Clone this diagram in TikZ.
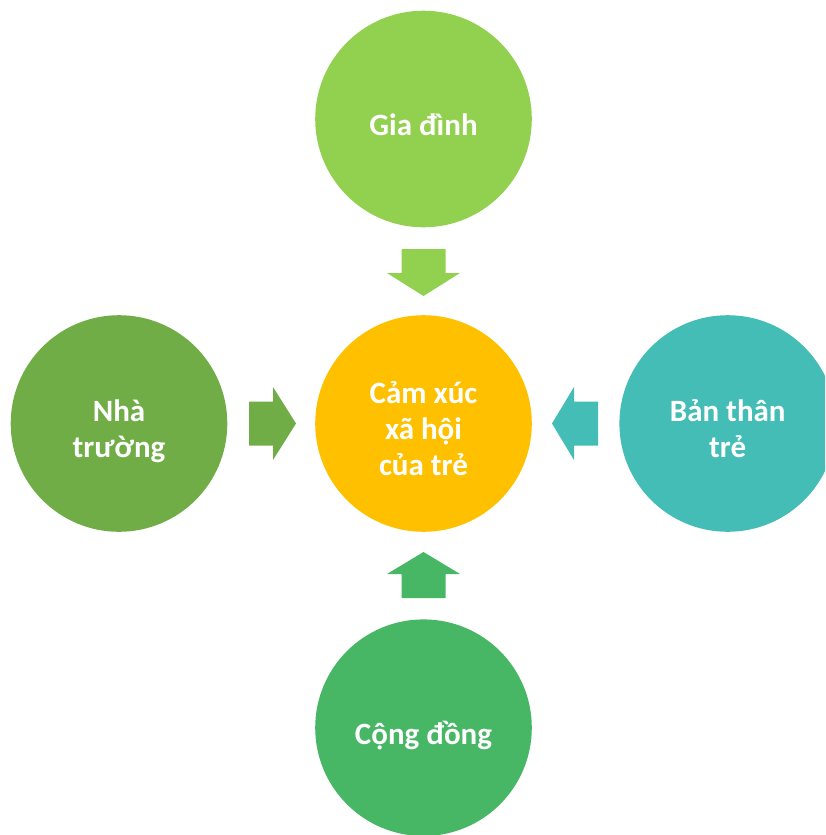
\documentclass[tikz,border=0pt]{standalone}
\usepackage{fontspec}
\setmainfont{Carlito}
\usetikzlibrary{calc}
\definecolor{cTop}{HTML}{92D050}
\definecolor{cLeft}{HTML}{70AD47}
\definecolor{cMid}{HTML}{FFC000}
\definecolor{cRight}{HTML}{43BDB5}
\definecolor{cBot}{HTML}{47B665}
\begin{document}
\begin{tikzpicture}[x=1pt,y=-1pt,
  bubble/.style={circle,minimum size=216.6pt,inner sep=0pt,draw=none},
  lbl/.style={text=white,font=\bfseries\fontsize{31}{36}\selectfont,align=center,inner sep=0pt,anchor=base}]
\useasboundingbox (0,0) rectangle (825,835);
\clip (0,0) rectangle (825,835);
% circles
\node[bubble,fill=cTop]   (gd) at (423.5,119)   {};
\node[bubble,fill=cLeft]  (nt) at (119,423.5)   {};
\node[bubble,fill=cMid]   (cx) at (423.5,423.5) {};
\node[bubble,fill=cRight] (bt) at (727.7,423.5) {};
\node[bubble,fill=cBot]   (cd) at (423.5,727.7) {};
% labels (base anchor = baseline of last line)
\node[lbl] (gdt) at ($(gd.center)+(0,16)$)   {Gia đình};
\node[lbl] (ntt) at ($(nt.center)+(0,33.5)$) {Nhà\\trường};
\node[lbl] (cxt) at ($(cx.center)+(0,51.5)$) {Cảm xúc\\xã hội\\của trẻ};
\node[lbl] (btt) at ($(bt.center)+(0,33.5)$) {Bản thân\\trẻ};
\node[lbl] (cdt) at ($(cd.center)+(0,17)$)   {Cộng đồng};
% block arrows
\fill[cTop] (401.5,249) -- (445.5,249) -- (445.5,273) -- (460,273) -- (423.5,296)
  -- (387,273) -- (401.5,273) -- cycle;
\fill[cLeft] (249,401.5) -- (249,445.5) -- (273,445.5) -- (273,460) -- (296,423.5)
  -- (273,387) -- (273,401.5) -- cycle;
\fill[cRight] (598,401.5) -- (598,445.5) -- (574,445.5) -- (574,460) -- (552,423.5)
  -- (574,387) -- (574,401.5) -- cycle;
\fill[cBot] (401.5,598) -- (445.5,598) -- (445.5,574) -- (460,574) -- (423.5,552)
  -- (387,574) -- (401.5,574) -- cycle;
\end{tikzpicture}
\end{document}
